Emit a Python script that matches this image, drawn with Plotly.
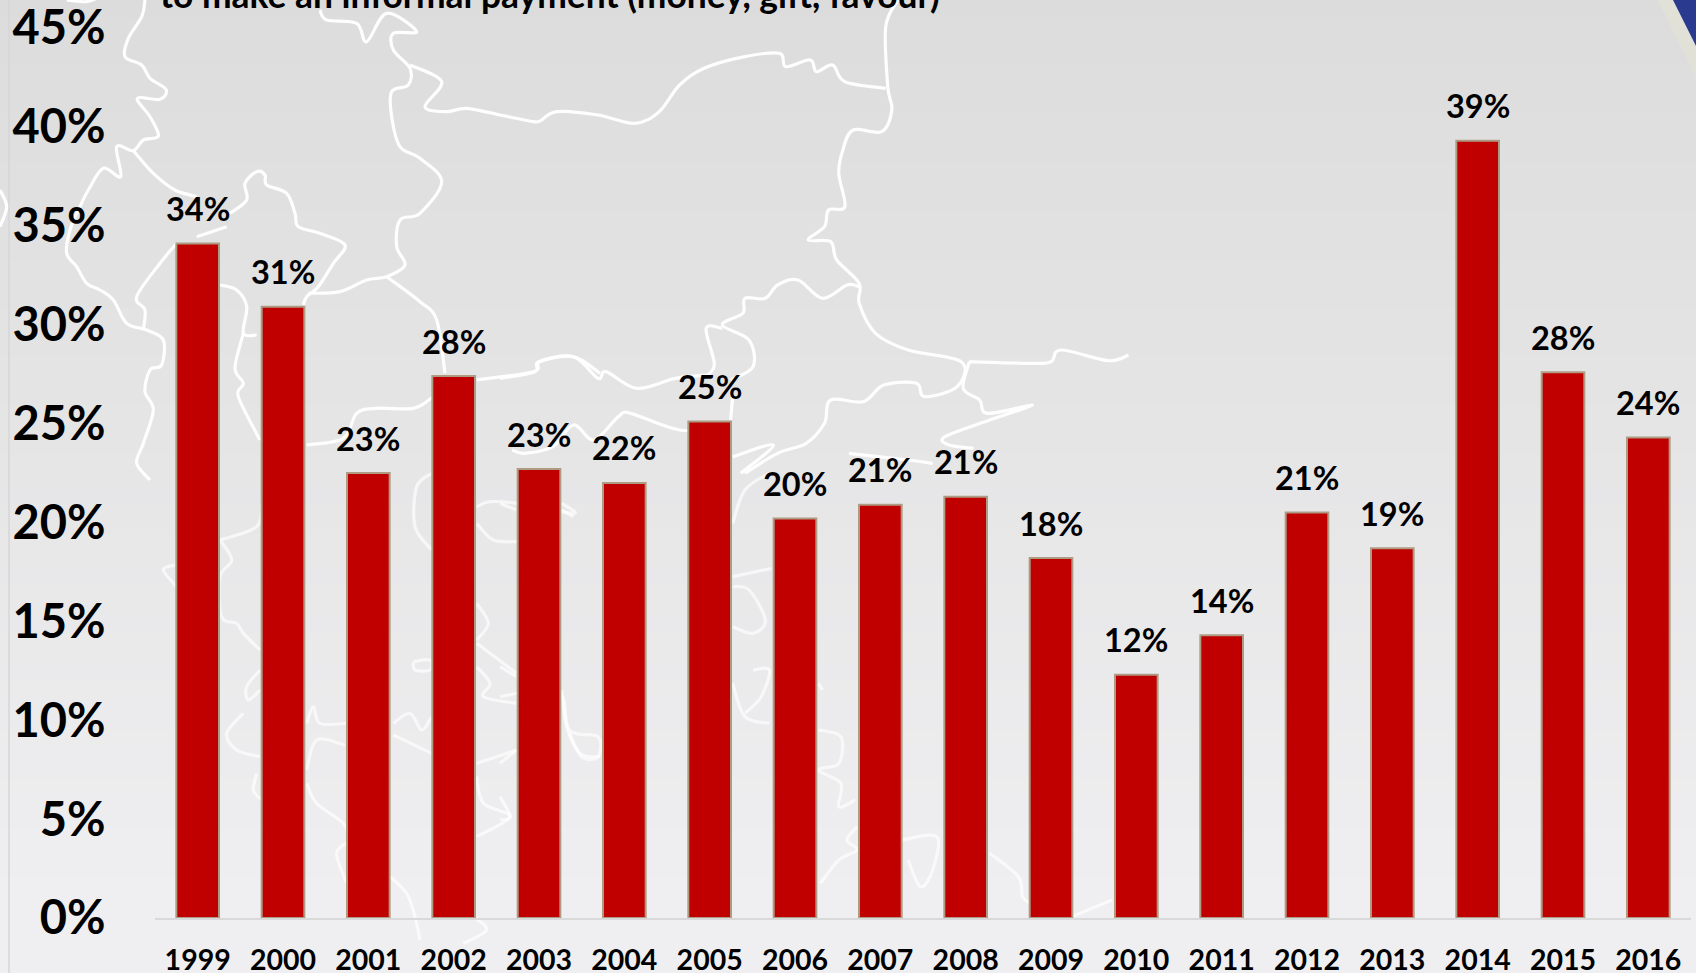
import plotly.graph_objects as go

years = [1999,2000,2001,2002,2003,2004,2005,2006,2007,2008,2009,2010,2011,2012,2013,2014,2015,2016]
values = [34.1,30.9,22.5,27.4,22.7,22.0,25.1,20.2,20.9,21.3,18.2,12.3,14.3,20.5,18.7,39.3,27.6,24.3]
labels = ["34%","31%","23%","28%","23%","22%","25%","20%","21%","21%","18%","12%","14%","21%","19%","39%","28%","24%"]
y_ticks = [0,5,10,15,20,25,30,35,40,45]
title_text = "to make an informal payment (money, gift, favour)"

W, H = 1696, 973
L, R, T, B = 155, 5, 28, 55
FONT = "Lato, Carlito, Calibri, sans-serif"

def px(x): return (x - L) / (W - L - R)
def py(y): return 1 - (y - T) / (H - T - B)

def smooth(points):
    pts = [(px(x), py(y)) for x, y in points]
    d = f"M{pts[0][0]:.5f},{pts[0][1]:.5f}"
    for i in range(len(pts) - 1):
        p0 = pts[max(i - 1, 0)]; p1 = pts[i]; p2 = pts[i + 1]; p3 = pts[min(i + 2, len(pts) - 1)]
        c1 = (p1[0] + (p2[0] - p0[0]) / 6, p1[1] + (p2[1] - p0[1]) / 6)
        c2 = (p2[0] - (p3[0] - p1[0]) / 6, p2[1] - (p3[1] - p1[1]) / 6)
        d += f" C{c1[0]:.5f},{c1[1]:.5f} {c2[0]:.5f},{c2[1]:.5f} {p2[0]:.5f},{p2[1]:.5f}"
    return d

map_a = [
 [(135,0),(125,50),(85,115),(75,170),(125,195),(150,235),(198,268),(180,298),(112,295),(150,350),(175,408),(130,420),(100,452),(50,440),(62,530),(10,505),(-35,570),(-60,620),(-90,690),(-100,760),(-70,800),(-40,850),(0,870),(40,900),(80,970),(140,990),(190,1020),(185,1095),(150,1110),(135,1175),(160,1230),(130,1330),(110,1390),(150,1440)],
 [(100,452),(160,520),(225,570),(290,590)],
 [(290,710),(380,680)],
 [(390,640),(440,600),(435,550),(470,515),(495,525),(500,555),(560,580),(585,640),(595,680),(660,700),(735,735),(700,790),(655,860),(620,890),(610,915)],
 [(230,730),(180,790),(110,890),(135,930),(130,990)],
 [(360,855),(410,870),(440,920),(430,1000),(470,1005)],
 [(430,1000),(405,1105),(430,1150),(415,1190),(480,1320)],
 [(625,880),(720,875),(800,840),(860,830),(915,795),(890,740),(900,660),(960,640),(1025,545),(960,475),(900,440),(875,350),(875,275),(925,255),(930,205),(880,150),(880,100),(950,95),(860,40),(800,125),(770,70),(680,60),(660,30)],
 [(930,195),(1025,245),(975,320),(1040,335),(1100,325),(1200,345),(1300,365),(1323,362)],
 [(860,830),(960,905),(1010,960),(1035,1120)],
 [(1130,1140),(1300,1115),(1320,1085),(1420,1070),(1500,1120)],
 [(620,1335),(730,1315),(770,1240),(830,1225),(940,1225),(1000,1190)],
 [(-300,570),(-280,620),(-300,680)],
 [(-100,0),(-40,5),(0,-10)],
]
map_b = [
 [(100,362),(140,335),(240,345),(330,370),(390,335),(440,255),(500,205),(600,170),(685,160),(700,200),(760,180),(775,215),(815,195),(845,245),(945,265)],
 [(975,0),(945,80),(950,260),(960,330),(935,395),(865,390),(840,450),(830,520),(845,620),(805,630),(795,680),(755,720),(810,725),(825,780),(880,850),(880,910),(920,1000),(1000,1050),(1130,1085),(1120,1160),(1040,1190),(1020,1150),(940,1155),(890,1205),(810,1200),(795,1270),(750,1330),(680,1360),(600,1420)],
 [(1150,1085),(1300,1090),(1350,1085),(1375,1050),(1490,1082),(1540,1065)],
 [(1150,1085),(1135,1165),(1175,1200),(1195,1240),(1305,1215),(1200,1260),(1090,1310),(1100,1335),(1160,1345)],
 [(855,1360),(1000,1380),(1060,1390)],
 [(880,860),(850,855),(790,895),(730,840),(680,855),(650,895),(600,895),(595,940),(545,975),(610,1020),(620,1100),(565,1140)],
 [(545,985),(505,985),(525,1090),(510,1125)],
 [(570,1190),(565,1260)],
 [(0,1135),(85,1115),(95,1085),(180,1070),(240,1135),(260,1115),(335,1165),(430,1135),(510,1125)],
 [(565,1290),(440,1290),(320,1240),(290,1250),(230,1320),(180,1275),(130,1340),(60,1360),(30,1350)],
 [(570,1370),(670,1335),(590,1420)],
]
map_c = [
 [(360,210),(470,170),(485,100)],
 [(360,210),(395,270),(360,320),(365,440),(410,460),(430,490),(480,540)],
 [(230,350),(190,300),(225,285)],
 [(480,600),(440,650),(445,690),(480,660)],
 [(430,730),(380,790),(410,840),(480,860)],
 [(620,760),(640,710),(660,760),(740,760)],
 [(620,900),(650,810),(735,825)],
 [(470,910),(460,960),(485,990)],
 [(620,940),(650,1000),(730,1060),(745,1110),(710,1150),(740,1240)],
 [(870,1220),(920,1270),(945,1340),(960,1410)],
 [(880,760),(930,730),(965,780),(995,740)],
 [(880,795),(995,850)],
 [(995,10),(950,50),(945,170),(995,240)],
 [(1130,110),(1170,95),(1250,100),(1420,130),(1385,100)],
 [(1130,160),(1180,210),(1250,215)],
 [(1130,400),(1165,460),(1130,510)],
 [(1130,520),(1250,610)],
 [(1130,590),(1170,640),(1150,680),(1250,700)],
 [(1385,660),(1400,770),(1440,850),(1500,860)],
 [(1130,880),(1250,840)],
 [(1130,920),(1150,1000),(1230,1040),(1130,1100)],
 [(1120,1340),(1160,1380),(1090,1420)],
 [(940,575),(990,570),(990,600),(945,600),(940,575)],
]
map_d = [
 [(570,160),(600,60),(660,10)],
 [(570,320),(665,295)],
 [(570,350),(610,360),(650,450),(620,490),(570,470)],
 [(570,640),(600,740),(660,760)],
 [(620,600),(660,600),(640,680),(600,730)],
 [(780,640),(790,660)],
 [(780,780),(835,800),(830,880),(780,900),(835,940),(830,1010),(870,990)],
 [(0,100),(40,120)],
 [(150,120),(180,140)],
 [(0,590),(40,620)],
 [(0,680),(140,660),(170,780),(240,800),(240,860),(200,860),(170,790)],
 [(0,880),(40,840)],
 [(0,1050),(25,1040),(0,980)],
 [(785,1240),(830,1170),(875,1140),(850,1110),(875,1070)],
 [(985,1110),(1070,1100),(1060,1200),(1030,1250),(1000,1170)],
 [(1200,1150),(1270,1220),(1280,1280),(1300,1300)],
 [(1400,1340),(1500,1290)],
]

def conv(lines, ox, oy, sx, sy):
    return [[(ox + x / sx, oy + y / sy) for x, y in ln] for ln in lines]

all_lines = (conv(map_a, 100, 0, 3, 3) + conv(map_b, 500, 0, 2.45, 3) +
             conv(map_c, 100, 470, 3, 3) + conv(map_d, 500, 470, 2.45, 3))

shapes = []
n = 60
top_c, bot_c = (220, 220, 220), (239, 239, 241)
for i in range(n):
    y0, y1 = i * H / n, (i + 1) * H / n
    t = min(1, (i + 0.5) / n / 0.92)
    c = tuple(round(a + (b - a) * t) for a, b in zip(top_c, bot_c))
    shapes.append(dict(type="rect", xref="paper", yref="paper", layer="below",
                       x0=px(0), x1=px(W), y0=py(y0), y1=py(y1 + 1),
                       fillcolor=f"rgb{c}", line_width=0))
shapes.append(dict(type="line", xref="paper", yref="paper", layer="below",
                   x0=px(9), x1=px(9), y0=py(0), y1=py(H), line=dict(color="#d6d6d8", width=1.5)))
for ln in all_lines:
    op = 0.95 if sum(p[1] for p in ln) / len(ln) < 480 else 0.65
    shapes.append(dict(type="path", xref="paper", yref="paper", layer="below", path=smooth(ln),
                       line=dict(color=f"rgba(255,255,255,{op})", width=3.2)))
def poly(pts):
    return "M" + " L".join(f"{px(x):.5f},{py(y):.5f}" for x, y in pts) + " Z"
shapes.append(dict(type="path", xref="paper", yref="paper", layer="below",
                   path=poly([(1658,0),(1673,0),(1696,45),(1696,78)]), fillcolor="#e2e1d8", line_width=0))
shapes.append(dict(type="path", xref="paper", yref="paper", layer="below",
                   path=poly([(1673,0),(1696,0),(1696,46)]), fillcolor="#2a3a8f", line_width=0))

annotations = [dict(x=yr, y=v, xref="x", yref="y", text=lb, showarrow=False, yshift=35,
                    xanchor="center", yanchor="middle",
                    font=dict(family=FONT, size=32.5, weight=700, color="black"))
               for yr, v, lb in zip(years, values, labels)]
annotations.append(dict(x=px(158), y=py(-5), xref="paper", yref="paper", text=title_text,
                        showarrow=False, xanchor="left", yanchor="middle",
                        font=dict(family=FONT, size=35.4, weight=700, color="black")))

fig = go.Figure(go.Bar(x=years, y=values, width=0.5, marker=dict(color="#C00000", line=dict(color="#ae9b84", width=2))))
fig.update_layout(
    width=W, height=H, autosize=False, margin=dict(l=L, r=R, t=T, b=B, pad=0),
    paper_bgcolor="#eeeef0", plot_bgcolor="rgba(0,0,0,0)", showlegend=False,
    shapes=shapes, annotations=annotations,
    xaxis=dict(type="linear", range=[1998.5, 2016.5], tickvals=years, ticktext=[str(y) for y in years], automargin=False,
               showgrid=False, zeroline=False, showline=True, linecolor="#d9d9d9", linewidth=1.5,
               ticks="outside", ticklen=16, tickcolor="rgba(0,0,0,0)", ticklabeloverflow="allow",
               tickfont=dict(family=FONT, size=28.5, weight=700, color="black"), tickangle=0),
    yaxis=dict(range=[0, 45], tickvals=y_ticks, ticktext=[f"{t}%" for t in y_ticks], automargin=False,
               showgrid=False, zeroline=False, showline=False, ticklabeloverflow="allow",
               ticks="outside", ticklen=39, tickcolor="rgba(0,0,0,0)",
               tickfont=dict(family=FONT, size=47, weight=700, color="black")),
)
fig.write_html("out.html", config=dict(displayModeBar=False),
               post_script="document.body.style.margin='0';document.documentElement.style.overflow='hidden';")
